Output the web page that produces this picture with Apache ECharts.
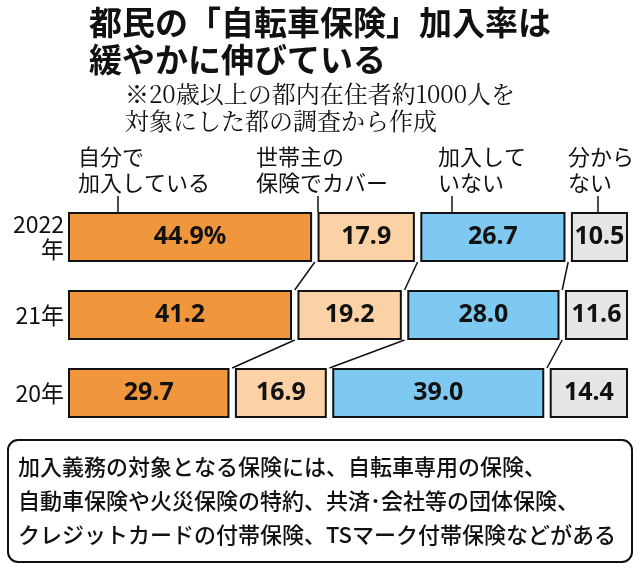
<!DOCTYPE html><html><head><meta charset="utf-8"><script src="https://cdn.jsdelivr.net/npm/echarts@6/dist/echarts.min.js"></script>
<style>body{margin:0}#c{width:640px;height:571px}</style></head><body><div id="c"></div><script>
const years=['2022\n年','21年','20年'];
const seriesNames=['自分で\n加入している','世帯主の\n保険でカバー','加入して\nいない','分から\nない'];
const self=[44.9,41.2,29.7];
const head=[17.9,19.2,16.9];
const none=[26.7,28.0,39.0];
const unknown=[10.5,11.6,14.4];
const colors=['#f0963c','#fbd2a6','#7dc9f1','#e6e6e6'];
const G=1.0;
const vals=[self,head,none,unknown];
const F='"Noto Sans CJK JP"';
const series=[];
vals.forEach((v,k)=>{
 series.push({type:'bar',stack:'s',barWidth:50,data:v,itemStyle:{color:colors[k],borderColor:'#111',borderWidth:2},
  label:{show:true,position:'inside',color:'#111',fontSize:25,fontWeight:'bold',fontFamily:'"Noto Sans"',
   formatter:p=>(k===0&&p.dataIndex===0)?p.value.toFixed(1)+'%':p.value.toFixed(1)}});
 if(k<3) series.push({type:'bar',stack:'s',data:[G,G,G],itemStyle:{color:'transparent'},silent:true});
});
const links=[];
for(let i=0;i<2;i++){let a=0,b=0;for(let k=0;k<3;k++){a+=vals[k][i]+G;b+=vals[k][i+1]+G;links.push([a-G/2,i,b-G/2,i+1]);}}
series.push({type:'custom',silent:true,data:links,renderItem:(params,api)=>{
 const p1=api.coord([api.value(0),api.value(1)]),p2=api.coord([api.value(2),api.value(3)]);
 return {type:'line',shape:{x1:p1[0],y1:p1[1]+25,x2:p2[0],y2:p2[1]-25},style:{stroke:'#111',lineWidth:1.5}};
}});
const chart=echarts.init(document.getElementById('c'));
const legX=[78,256,438,568], tickX=[118,318,452,598];
const g=[
 {type:'text',left:'center',top:4,style:{text:'都民の「自転車保険」加入率は\n緩やかに伸びている',font:'bold 33px '+F,fill:'#111',align:'center',lineHeight:37}},
 {type:'text',left:'center',top:80,style:{text:'※20歳以上の都内在住者約1000人を\n対象にした都の調査から作成',font:'24px "Noto Serif CJK JP", '+F,fill:'#111',align:'center',lineHeight:27}},
 {type:'rect',shape:{x:8,y:440,width:624,height:122,r:10},style:{fill:'#fff',stroke:'#111',lineWidth:2}},
 {type:'text',x:18,y:450,style:{text:'加入義務の対象となる保険には、自転車専用の保険、\n自動車保険や火災保険の特約、共済･会社等の団体保険、\nクレジットカードの付帯保険、TSマーク付帯保険などがある',font:'500 22px '+F,fill:'#111',lineHeight:34}}
];
seriesNames.forEach((n,k)=>{
 g.push({type:'text',x:legX[k],y:144,style:{text:n,font:'22px '+F,fill:'#111',lineHeight:26}});
 g.push({type:'line',shape:{x1:tickX[k],y1:196,x2:tickX[k],y2:212},style:{stroke:'#111',lineWidth:1.5}});
});
chart.setOption({animation:false,
 grid:{left:68,right:12,top:198,bottom:139},
 xAxis:{type:'value',min:0,max:100+3*G,show:false},
 yAxis:{type:'category',inverse:true,data:years,axisLine:{show:false},axisTick:{show:false},
  axisLabel:{color:'#111',fontSize:23,fontFamily:F,margin:4,lineHeight:25}},
 series,graphic:g});
</script></body></html>
